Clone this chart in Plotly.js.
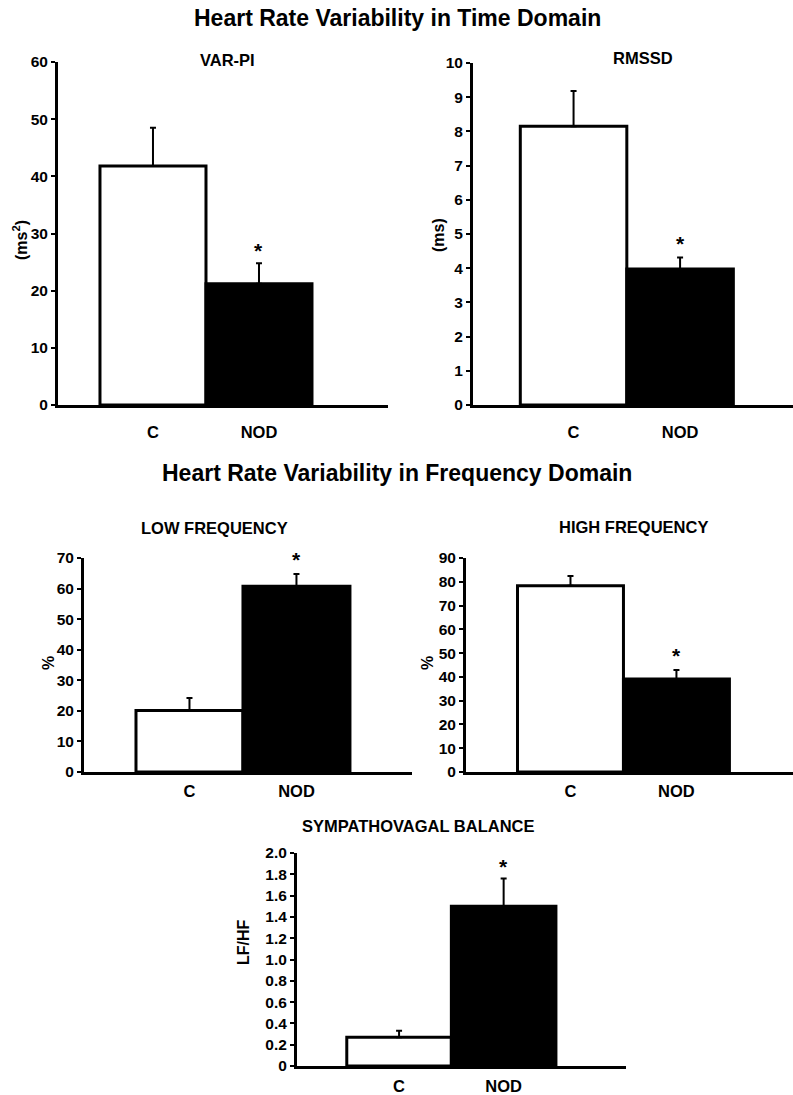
<!DOCTYPE html>
<html>
<head>
<meta charset="utf-8">
<script src="https://cdn.plot.ly/plotly-3.0.1.min.js"></script>
<style>html,body{margin:0;padding:0;background:#fff;}#chart{width:793px;height:1095px;}</style>
</head>
<body>
<div id="chart"></div>
<script>
// ---- data ----
const categories = ['C', 'NOD'];
const barColors = ['white', 'black'];

const varpiMean = [41.8, 21.2];
const varpiErr = [6.7, 3.6];

const rmssdMean = [8.15, 3.98];
const rmssdErr = [1.03, 0.33];

const lfMean = [20.1, 60.8];
const lfErr = [4.1, 4.0];

const hfMean = [78.3, 39.1];
const hfErr = [4.1, 3.8];

const lfhfMean = [0.27, 1.50];
const lfhfErr = [0.06, 0.26];

const sigMarker = [false, true];

const mainTitles = ['Heart Rate Variability in Time Domain', 'Heart Rate Variability in Frequency Domain'];
const panelTitles = ['VAR-PI', 'RMSSD', 'LOW FREQUENCY', 'HIGH FREQUENCY', 'SYMPATHOVAGAL BALANCE'];
const yTitles = ['(ms<sup>2</sup>)', '(ms)', '%', '%', 'LF/HF'];

const varpiTicks = [0, 10, 20, 30, 40, 50, 60];
const rmssdTicks = [0, 1, 2, 3, 4, 5, 6, 7, 8, 9, 10];
const lfTicks = [0, 10, 20, 30, 40, 50, 60, 70];
const hfTicks = [0, 10, 20, 30, 40, 50, 60, 70, 80, 90];
const lfhfTicks = [0, 0.2, 0.4, 0.6, 0.8, 1.0, 1.2, 1.4, 1.6, 1.8, 2.0];
const lfhfTickText = ['0', '0.2', '0.4', '0.6', '0.8', '1.0', '1.2', '1.4', '1.6', '1.8', '2.0'];

// ---- layout geometry (pixels in 793x1095 page) ----
const W = 793, H = 1095;
const FONT = 'Liberation Sans, Arial, sans-serif';
const panels = [
  {mean: varpiMean, err: varpiErr, ticks: varpiTicks, text: null, yr: [0, 60],
   left: 58, right: 388, top: 62, bottom: 405, xr: [-0.896, 2.217], title: [227, 60], ytitle: [20, 240], standoff: 10, star: 13},
  {mean: rmssdMean, err: rmssdErr, ticks: rmssdTicks, text: null, yr: [0, 10],
   left: 473, right: 793, top: 63, bottom: 405, xr: [-0.944, 2.06], title: [643, 58], ytitle: [438, 235], standoff: 10, star: 14},
  {mean: lfMean, err: lfErr, ticks: lfTicks, text: null, yr: [0, 70],
   left: 84, right: 412, top: 558, bottom: 772, xr: [-0.986, 2.08], title: [214, 528], ytitle: [48, 663], standoff: 2, star: 14},
  {mean: hfMean, err: hfErr, ticks: hfTicks, text: null, yr: [0, 90],
   left: 466, right: 793, top: 558, bottom: 772, xr: [-0.986, 2.10], title: [633, 527], ytitle: [427, 663], standoff: 2, star: 14},
  {mean: lfhfMean, err: lfhfErr, ticks: lfhfTicks, text: lfhfTickText, yr: [0, 2],
   left: 297, right: 626, top: 853, bottom: 1066, xr: [-0.976, 2.17], title: [418, 826], ytitle: [243, 942], standoff: 3, star: 12}
];

const data = [];
const layout = {
  width: W, height: H,
  margin: {l: 0, r: 0, t: 0, b: 0},
  paper_bgcolor: 'white', plot_bgcolor: 'white',
  showlegend: false,
  font: {family: FONT, color: 'black'},
  annotations: []
};

const px = x => x / W;
const py = y => 1 - y / H;

panels.forEach((p, i) => {
  const n = i + 1;
  const xa = n === 1 ? 'x' : 'x' + n;
  const ya = n === 1 ? 'y' : 'y' + n;
  data.push({
    type: 'bar',
    x: categories,
    y: p.mean,
    xaxis: xa, yaxis: ya,
    width: 1,
    marker: {color: barColors, line: {color: 'black', width: 3}},
    error_y: {type: 'data', symmetric: false, array: p.err, arrayminus: p.err.map(() => 0),
              color: 'black', thickness: 2, width: 3},
    hoverinfo: 'skip'
  });
  layout['xaxis' + (n === 1 ? '' : n)] = {
    domain: [px(p.left), px(p.right)],
    anchor: ya,
    type: 'category',
    range: p.xr,
    showline: true, linewidth: 3, linecolor: 'black',
    showgrid: false, zeroline: false,
    ticks: '',
    ticklabelstandoff: p.standoff,
    tickfont: {family: FONT, size: 16.5, color: 'black', weight: 'bold'},
    fixedrange: true
  };
  const yax = {
    domain: [py(p.bottom), py(p.top)],
    anchor: xa,
    range: p.yr,
    showline: true, linewidth: 3, linecolor: 'black',
    showgrid: false, zeroline: false,
    ticks: 'outside', ticklen: 4, tickwidth: 2, tickcolor: 'black',
    tickmode: 'array', tickvals: p.ticks,
    tickfont: {family: FONT, size: 15.5, color: 'black', weight: 'bold'},
    fixedrange: true
  };
  if (p.text) yax.ticktext = p.text;
  layout['yaxis' + (n === 1 ? '' : n)] = yax;

  // panel title
  layout.annotations.push({
    text: panelTitles[i], xref: 'paper', yref: 'paper',
    x: px(p.title[0]), y: py(p.title[1]), xanchor: 'center', yanchor: 'middle',
    showarrow: false, font: {family: FONT, size: 16.5, color: 'black', weight: 'bold'}
  });
  // y title
  layout.annotations.push({
    text: yTitles[i], xref: 'paper', yref: 'paper', textangle: -90,
    x: px(p.ytitle[0]), y: py(p.ytitle[1]), xanchor: 'center', yanchor: 'middle',
    showarrow: false, font: {family: FONT, size: 16, color: 'black', weight: 'bold'}
  });
  // significance stars
  categories.forEach((c, j) => {
    if (!sigMarker[j]) return;
    layout.annotations.push({
      text: '*', xref: xa, yref: ya,
      x: c, y: p.mean[j] + p.err[j], xanchor: 'center', yanchor: 'middle',
      yshift: p.star,
      showarrow: false, font: {family: FONT, size: 21, color: 'black', weight: 'bold'}
    });
  });
});

// main titles
[[397, 18], [397, 473]].forEach((pos, k) => {
  layout.annotations.push({
    text: mainTitles[k], xref: 'paper', yref: 'paper',
    x: px(pos[0]), y: py(pos[1]), xanchor: 'center', yanchor: 'middle',
    showarrow: false, font: {family: FONT, size: 23, color: 'black', weight: 'bold'}
  });
});

Plotly.newPlot('chart', data, layout, {staticPlot: true, displayModeBar: false});
</script>
</body>
</html>
